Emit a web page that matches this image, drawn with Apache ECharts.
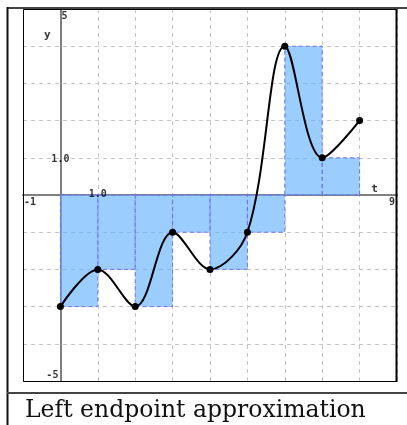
<!DOCTYPE html>
<html>
<head>
<meta charset="utf-8">
<script src="https://cdn.jsdelivr.net/npm/echarts@6/dist/echarts.min.js"></script>
<style>
  html, body { margin: 0; padding: 0; background: #fff; }
  #chart { width: 407px; height: 425px; }
</style>
</head>
<body>
<div id="chart"></div>
<script>
// ---- data ----
const tValues = [0, 1, 2, 3, 4, 5, 6, 7, 8];
const fValues = [-3, -2, -3, -1, -2, -1, 4, 1, 2];
const tickLabelText = ['-1', '9', '5', '-5', '1.0', '1.0', 'y', 't'];
const tickLabelT = [-1, 9, 0, 0, 1, 0, -0.35, 8.4];
const tickLabelY = [0, 0, 5, -5, 0, 1, 4.3, 0.15];
const captionText = 'Left endpoint approximation';

// ---- styles for labels (positioning kept separate from data) ----
const labelStyles = [
  { align: 'left', verticalAlign: 'top', offset: [1, 2] },
  { align: 'right', verticalAlign: 'top', offset: [-2, 2] },
  { align: 'left', verticalAlign: 'top', offset: [1, 2] },
  { align: 'right', verticalAlign: 'bottom', offset: [-2, -1] },
  { align: 'center', verticalAlign: 'middle', offset: [0, -1] },
  { align: 'center', verticalAlign: 'middle', offset: [0, 2] },
  { align: 'center', verticalAlign: 'middle', offset: [0, 0], fontSize: 11 },
  { align: 'center', verticalAlign: 'middle', offset: [0, 0], fontSize: 11 }
];

const rectData = [];
for (let i = 0; i < tValues.length - 1; i++) {
  rectData.push([tValues[i], tValues[i + 1], fValues[i]]);
}
const curveData = tValues.map((t, i) => [t, fValues[i]]);
const labelData = tickLabelText.map((txt, i) => ({
  value: [tickLabelT[i], tickLabelY[i]],
  label: Object.assign({
    show: true, position: 'inside', formatter: txt,
    fontFamily: 'DejaVu Sans Mono', fontWeight: 'bold', fontSize: 10, color: '#000'
  }, labelStyles[i])
}));

const chart = echarts.init(document.getElementById('chart'), null, { renderer: 'canvas' });
const axisCommon = {
  type: 'value',
  interval: 1,
  axisLine: { show: true, onZero: true, lineStyle: { color: '#808080', width: 2 } },
  axisTick: { show: false },
  axisLabel: { show: false },
  splitLine: { show: true, lineStyle: { color: '#c4c4c4', type: [4, 4], width: 1 } }
};
chart.setOption({
  animation: false,
  backgroundColor: '#fff',
  grid: { left: 23, right: 10, top: 9, bottom: 44, show: false },
  xAxis: Object.assign({}, axisCommon, { min: -1, max: 9 }),
  yAxis: Object.assign({}, axisCommon, { min: -5, max: 5 }),
  series: [
    {
      type: 'custom',
      data: rectData,
      z: 1,
      renderItem: function (params, api) {
        const p0 = api.coord([api.value(0), 0]);
        const p1 = api.coord([api.value(1), api.value(2)]);
        return {
          type: 'rect',
          shape: {
            x: Math.min(p0[0], p1[0]), y: Math.min(p0[1], p1[1]),
            width: Math.abs(p1[0] - p0[0]), height: Math.abs(p1[1] - p0[1])
          },
          style: { fill: 'rgba(102,178,255,0.65)', stroke: '#6f6fff', lineWidth: 1, lineDash: [4, 3] }
        };
      }
    },
    {
      type: 'line',
      data: curveData,
      smooth: 0.35,
      z: 3,
      symbol: 'circle',
      symbolSize: 7,
      itemStyle: { color: '#000' },
      lineStyle: { color: '#000', width: 2 }
    },
    {
      type: 'scatter',
      data: labelData,
      symbolSize: 0,
      z: 5,
      silent: true
    }
  ],
  graphic: [
    { type: 'rect', z: 10, shape: { x: 23.5, y: 9.5, width: 373, height: 372 }, style: { fill: 'none', stroke: '#000', lineWidth: 1 } },
    { type: 'line', z: 10, shape: { x1: 396.5, y1: 9, x2: 396.5, y2: 382 }, style: { stroke: '#000', lineWidth: 2 } },
    { type: 'line', z: 10, shape: { x1: 7, y1: 8, x2: 407, y2: 8 }, style: { stroke: '#444', lineWidth: 2 } },
    { type: 'line', z: 10, shape: { x1: 7.5, y1: 7, x2: 7.5, y2: 425 }, style: { stroke: '#111', lineWidth: 2 } },
    { type: 'line', z: 10, shape: { x1: 7, y1: 393, x2: 407, y2: 393 }, style: { stroke: '#444', lineWidth: 2 } },
    { type: 'text', z: 10, left: 25, top: 399, style: { text: captionText, font: '23.5px "DejaVu Serif"', fill: '#111' } }
  ]
});
</script>
</body>
</html>
